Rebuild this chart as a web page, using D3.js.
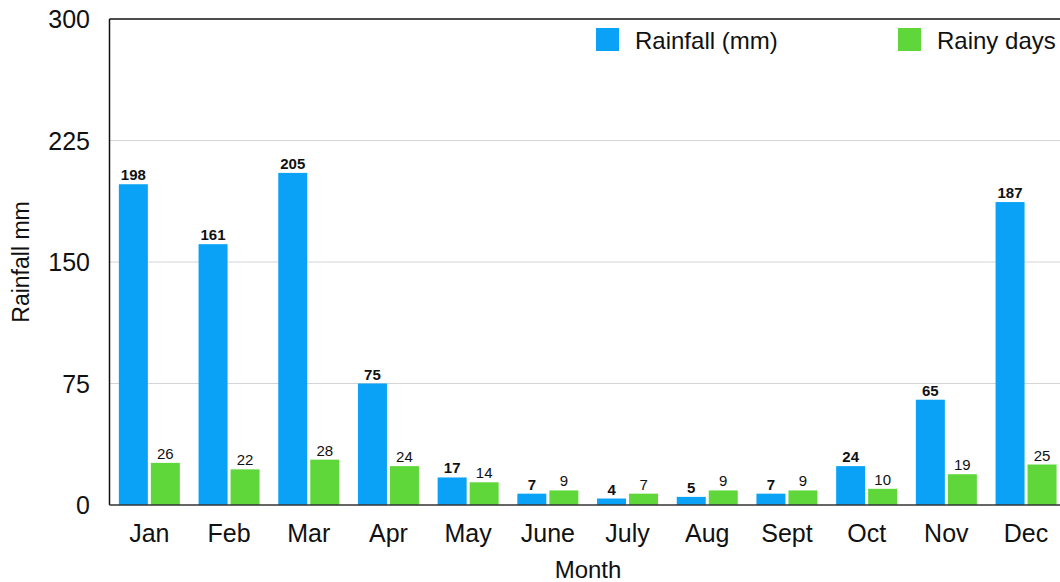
<!DOCTYPE html>
<html>
<head>
<meta charset="utf-8">
<script src="https://cdn.jsdelivr.net/npm/d3@7"></script>
<style>
  body { margin: 0; background: #fff; }
  svg { font-family: "Liberation Sans", Arial, Helvetica, sans-serif; display: block; }
</style>
</head>
<body>
<svg width="1060" height="582"></svg>
<script>
var months = ["Jan", "Feb", "Mar", "Apr", "May", "June", "July", "Aug", "Sept", "Oct", "Nov", "Dec"];
var rainfall = [198, 161, 205, 75, 17, 7, 4, 5, 7, 24, 65, 187];
var rainyDays = [26, 22, 28, 24, 14, 9, 7, 9, 9, 10, 19, 25];
var yTicks = [0, 75, 150, 225, 300];
var seriesNames = ["Rainfall (mm)", "Rainy days"];
var colors = ["#0aa2f6", "#5fd73a"];

var svg = d3.select("svg");
var plotLeft = 109.5, plotTop = 19, plotBottom = 505;

var x = d3.scaleBand().domain(months).range([plotLeft, plotLeft + 12 * 79.7]).paddingInner(0).paddingOuter(0);
var y = d3.scaleLinear().domain([0, 300]).range([plotBottom, plotTop]);
var barW = 29, gap = 3;

// gridlines
svg.append("g")
  .selectAll("line")
  .data(yTicks.filter(function(d) { return d > 0 && d < 300; }))
  .enter().append("line")
  .attr("x1", plotLeft).attr("x2", 1060)
  .attr("y1", function(d) { return y(d); })
  .attr("y2", function(d) { return y(d); })
  .attr("stroke", "#d4d4d4").attr("stroke-width", 1);

// top border
svg.append("line")
  .attr("x1", plotLeft).attr("x2", 1060)
  .attr("y1", y(300)).attr("y2", y(300))
  .attr("stroke", "#111").attr("stroke-width", 1.5);

// y tick labels
svg.append("g")
  .selectAll("text")
  .data(yTicks)
  .enter().append("text")
  .attr("x", 90)
  .attr("y", function(d) { return y(d); })
  .attr("dy", "0.36em")
  .attr("text-anchor", "end")
  .style("font-size", "25px")
  .attr("fill", "#111")
  .text(function(d) { return d; });

var data = months.map(function(m, i) { return { m: m, r: rainfall[i], d: rainyDays[i] }; });

function groupStart(d) { return x(d.m) + x.bandwidth() / 2 - (2 * barW + gap) / 2; }

// rainfall bars
svg.append("g").selectAll("rect")
  .data(data).enter().append("rect")
  .attr("x", function(d) { return groupStart(d); })
  .attr("width", barW)
  .attr("y", function(d) { return y(d.r); })
  .attr("height", function(d) { return plotBottom - y(d.r); })
  .attr("fill", colors[0]);

// rainy days bars
svg.append("g").selectAll("rect")
  .data(data).enter().append("rect")
  .attr("x", function(d) { return groupStart(d) + barW + gap; })
  .attr("width", barW)
  .attr("y", function(d) { return y(d.d); })
  .attr("height", function(d) { return plotBottom - y(d.d); })
  .attr("fill", colors[1]);

// value labels
svg.append("g").selectAll("text")
  .data(data).enter().append("text")
  .attr("x", function(d) { return groupStart(d) + barW / 2; })
  .attr("y", function(d) { return y(d.r) - 4; })
  .attr("text-anchor", "middle")
  .style("font-size", "15px").style("font-weight", "bold")
  .attr("fill", "#111")
  .text(function(d) { return d.r; });

svg.append("g").selectAll("text")
  .data(data).enter().append("text")
  .attr("x", function(d) { return groupStart(d) + barW + gap + barW / 2; })
  .attr("y", function(d) { return y(d.d) - 4; })
  .attr("text-anchor", "middle")
  .style("font-size", "15px")
  .attr("fill", "#111")
  .text(function(d) { return d.d; });

// axes lines
svg.append("line")
  .attr("x1", plotLeft).attr("x2", plotLeft)
  .attr("y1", plotTop).attr("y2", plotBottom)
  .attr("stroke", "#111").attr("stroke-width", 1.5);
svg.append("line")
  .attr("x1", plotLeft).attr("x2", 1060)
  .attr("y1", plotBottom).attr("y2", plotBottom)
  .attr("stroke", "#333").attr("stroke-width", 1.5);

// month labels
svg.append("g").selectAll("text")
  .data(months).enter().append("text")
  .attr("x", function(d) { return x(d) + x.bandwidth() / 2; })
  .attr("y", 542)
  .attr("text-anchor", "middle")
  .style("font-size", "25px")
  .attr("fill", "#111")
  .text(function(d) { return d; });

// axis titles
svg.append("text")
  .attr("x", 588).attr("y", 578)
  .attr("text-anchor", "middle")
  .style("font-size", "24px")
  .attr("fill", "#111")
  .text("Month");

svg.append("text")
  .attr("transform", "translate(29," + ((plotTop + plotBottom) / 2) + ") rotate(-90)")
  .attr("text-anchor", "middle")
  .style("font-size", "23px")
  .attr("fill", "#111")
  .text("Rainfall mm");

// legend
var legendX = [596, 898];
var legend = svg.append("g").selectAll("g")
  .data(seriesNames).enter().append("g")
  .attr("transform", function(d, i) { return "translate(" + legendX[i] + ",28)"; });
legend.append("rect")
  .attr("width", 23).attr("height", 23)
  .attr("fill", function(d, i) { return colors[i]; });
legend.append("text")
  .attr("x", 39).attr("y", 12)
  .attr("dy", "0.36em")
  .style("font-size", "24px")
  .attr("fill", "#111")
  .text(function(d) { return d; });
</script>
</body>
</html>
